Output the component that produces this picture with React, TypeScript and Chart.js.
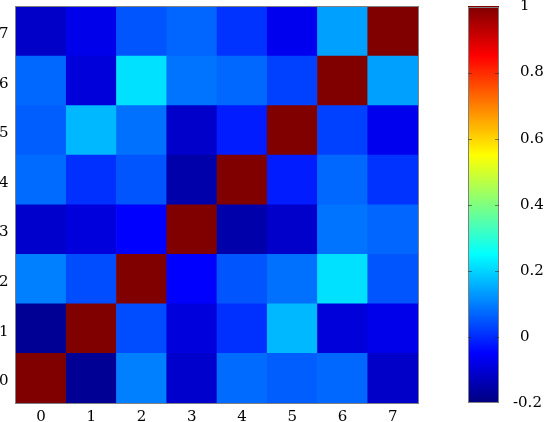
import { useEffect, useRef } from 'react';
import { Chart, registerables } from 'chart.js';

Chart.register(...registerables);

const categories = ['0', '1', '2', '3', '4', '5', '6', '7'];

const row0 = [1, -0.175, 0.1, -0.11, 0.077, 0.06, 0.072, -0.115];
const row1 = [-0.175, 1, 0.04, -0.09, 0.006, 0.167, -0.093, -0.073];
const row2 = [0.1, 0.04, 1, -0.05, 0.05, 0.082, 0.213, 0.05];
const row3 = [-0.11, -0.09, -0.05, 1, -0.15, -0.112, 0.086, 0.07];
const row4 = [0.077, 0.006, 0.05, -0.15, 1, -0.017, 0.072, 0.01];
const row5 = [0.06, 0.167, 0.082, -0.112, -0.017, 1, 0.025, -0.07];
const row6 = [0.072, -0.093, 0.213, 0.086, 0.072, 0.025, 1, 0.138];
const row7 = [-0.115, -0.073, 0.05, 0.07, 0.01, -0.07, 0.138, 1];

const rows = [row0, row1, row2, row3, row4, row5, row6, row7];

const colorbarTicks = [-0.2, 0, 0.2, 0.4, 0.6, 0.8, 1];
const CB_MIN = -0.2;
const CB_MAX = 1;

const clamp = (x: number) => Math.max(0, Math.min(1, x));
function jet(v: number): string {
  const t = clamp((v - CB_MIN) / (CB_MAX - CB_MIN));
  const r = clamp(1.5 - Math.abs(4 * t - 3));
  const g = clamp(1.5 - Math.abs(4 * t - 2));
  const b = clamp(1.5 - Math.abs(4 * t - 1));
  return `rgb(${Math.round(r * 255)},${Math.round(g * 255)},${Math.round(b * 255)})`;
}

const FONT = { family: "'DejaVu Serif'", size: 15 };

const frameAndColorbar = {
  id: 'frameAndColorbar',
  afterDraw(chart: any) {
    const { ctx, chartArea } = chart;
    const cb = chart.scales.cb;
    ctx.save();
    // plot frame
    ctx.strokeStyle = '#808080';
    ctx.lineWidth = 1;
    ctx.strokeRect(
      Math.round(chartArea.left) - 0.5,
      Math.round(chartArea.top) - 0.5,
      Math.round(chartArea.right) - Math.round(chartArea.left) + 1,
      Math.round(chartArea.bottom) - Math.round(chartArea.top) + 1
    );
    // colorbar
    const x0 = Math.round(chartArea.right) + 50;
    const w = 31;
    const yTop = cb.getPixelForValue(CB_MAX);
    const yBot = cb.getPixelForValue(CB_MIN);
    for (let y = Math.floor(yTop); y < Math.ceil(yBot); y++) {
      const v = cb.getValueForPixel(y + 0.5);
      ctx.fillStyle = jet(v);
      ctx.fillRect(x0, y, w, 1);
    }
    ctx.strokeStyle = '#808080';
    ctx.strokeRect(x0 + 0.5, Math.round(yTop) + 0.5, w - 1, Math.round(yBot) - Math.round(yTop) - 1);
    // ticks and labels
    ctx.font = `${FONT.size}px ${FONT.family}`;
    ctx.fillStyle = '#000';
    ctx.textBaseline = 'middle';
    ctx.textAlign = 'left';
    colorbarTicks.forEach((t) => {
      const py = cb.getPixelForValue(t);
      if (t > CB_MIN && t < CB_MAX) {
        ctx.strokeStyle = 'rgba(40,40,40,0.55)';
        ctx.beginPath();
        ctx.moveTo(x0, Math.round(py) + 0.5);
        ctx.lineTo(x0 + 4, Math.round(py) + 0.5);
        ctx.moveTo(x0 + w - 4, Math.round(py) + 0.5);
        ctx.lineTo(x0 + w, Math.round(py) + 0.5);
        ctx.stroke();
      }
      const label = String(t);
      const lx = t < 0 ? x0 + w + 14 : x0 + w + 21;
      ctx.fillText(label, lx, py);
    });
    ctx.restore();
  },
};

export default function App() {
  const ref = useRef<HTMLCanvasElement>(null);
  useEffect(() => {
    if (!ref.current) return;
    const chart = new Chart(ref.current, {
      type: 'bar',
      data: {
        labels: categories,
        datasets: rows.map((r, i) => ({
          label: `row ${categories[i]}`,
          data: r.map(() => [i, i + 1]),
          backgroundColor: r.map(jet),
          borderWidth: 0,
          grouped: false,
          barPercentage: 1,
          categoryPercentage: 1,
        })) as any,
      },
      options: {
        responsive: false,
        animation: false,
        layout: { padding: { top: 6.5, right: 127, left: 0, bottom: 0 } },
        plugins: { legend: { display: false }, tooltip: { enabled: false } },
        scales: {
          x: {
            type: 'category',
            grid: { display: false, drawTicks: false },
            border: { display: false },
            ticks: { padding: 5, color: '#000', font: FONT, maxRotation: 0, autoSkip: false },
            afterFit: (s: any) => {
              s.height = 19;
              s.paddingLeft = 0;
              s.paddingRight = 0;
            },
          },
          y: {
            type: 'linear',
            min: 0,
            max: 8,
            grid: { display: false, drawTicks: false },
            border: { display: false },
            afterBuildTicks: (s: any) => {
              s.ticks = categories.map((_, i) => ({ value: i + 0.5 }));
            },
            ticks: {
              padding: 7.5,
              labelOffset: 3,
              color: '#000',
              font: FONT,
              callback: (v: any) => categories[Math.floor(Number(v))],
            },
            afterFit: (s: any) => {
              s.width = 16;
              s.paddingTop = 0;
              s.paddingBottom = 0;
            },
          },
          cb: {
            type: 'linear',
            position: 'right',
            min: CB_MIN,
            max: CB_MAX,
            display: false,
          },
        },
      } as any,
      plugins: [frameAndColorbar],
    });
    return () => chart.destroy();
  }, []);
  return (
    <div style={{ position: 'fixed', left: 0, top: 0, width: 545, height: 422, background: '#fff' }}>
      <canvas ref={ref} width={545} height={422} style={{ display: 'block' }} />
    </div>
  );
}
